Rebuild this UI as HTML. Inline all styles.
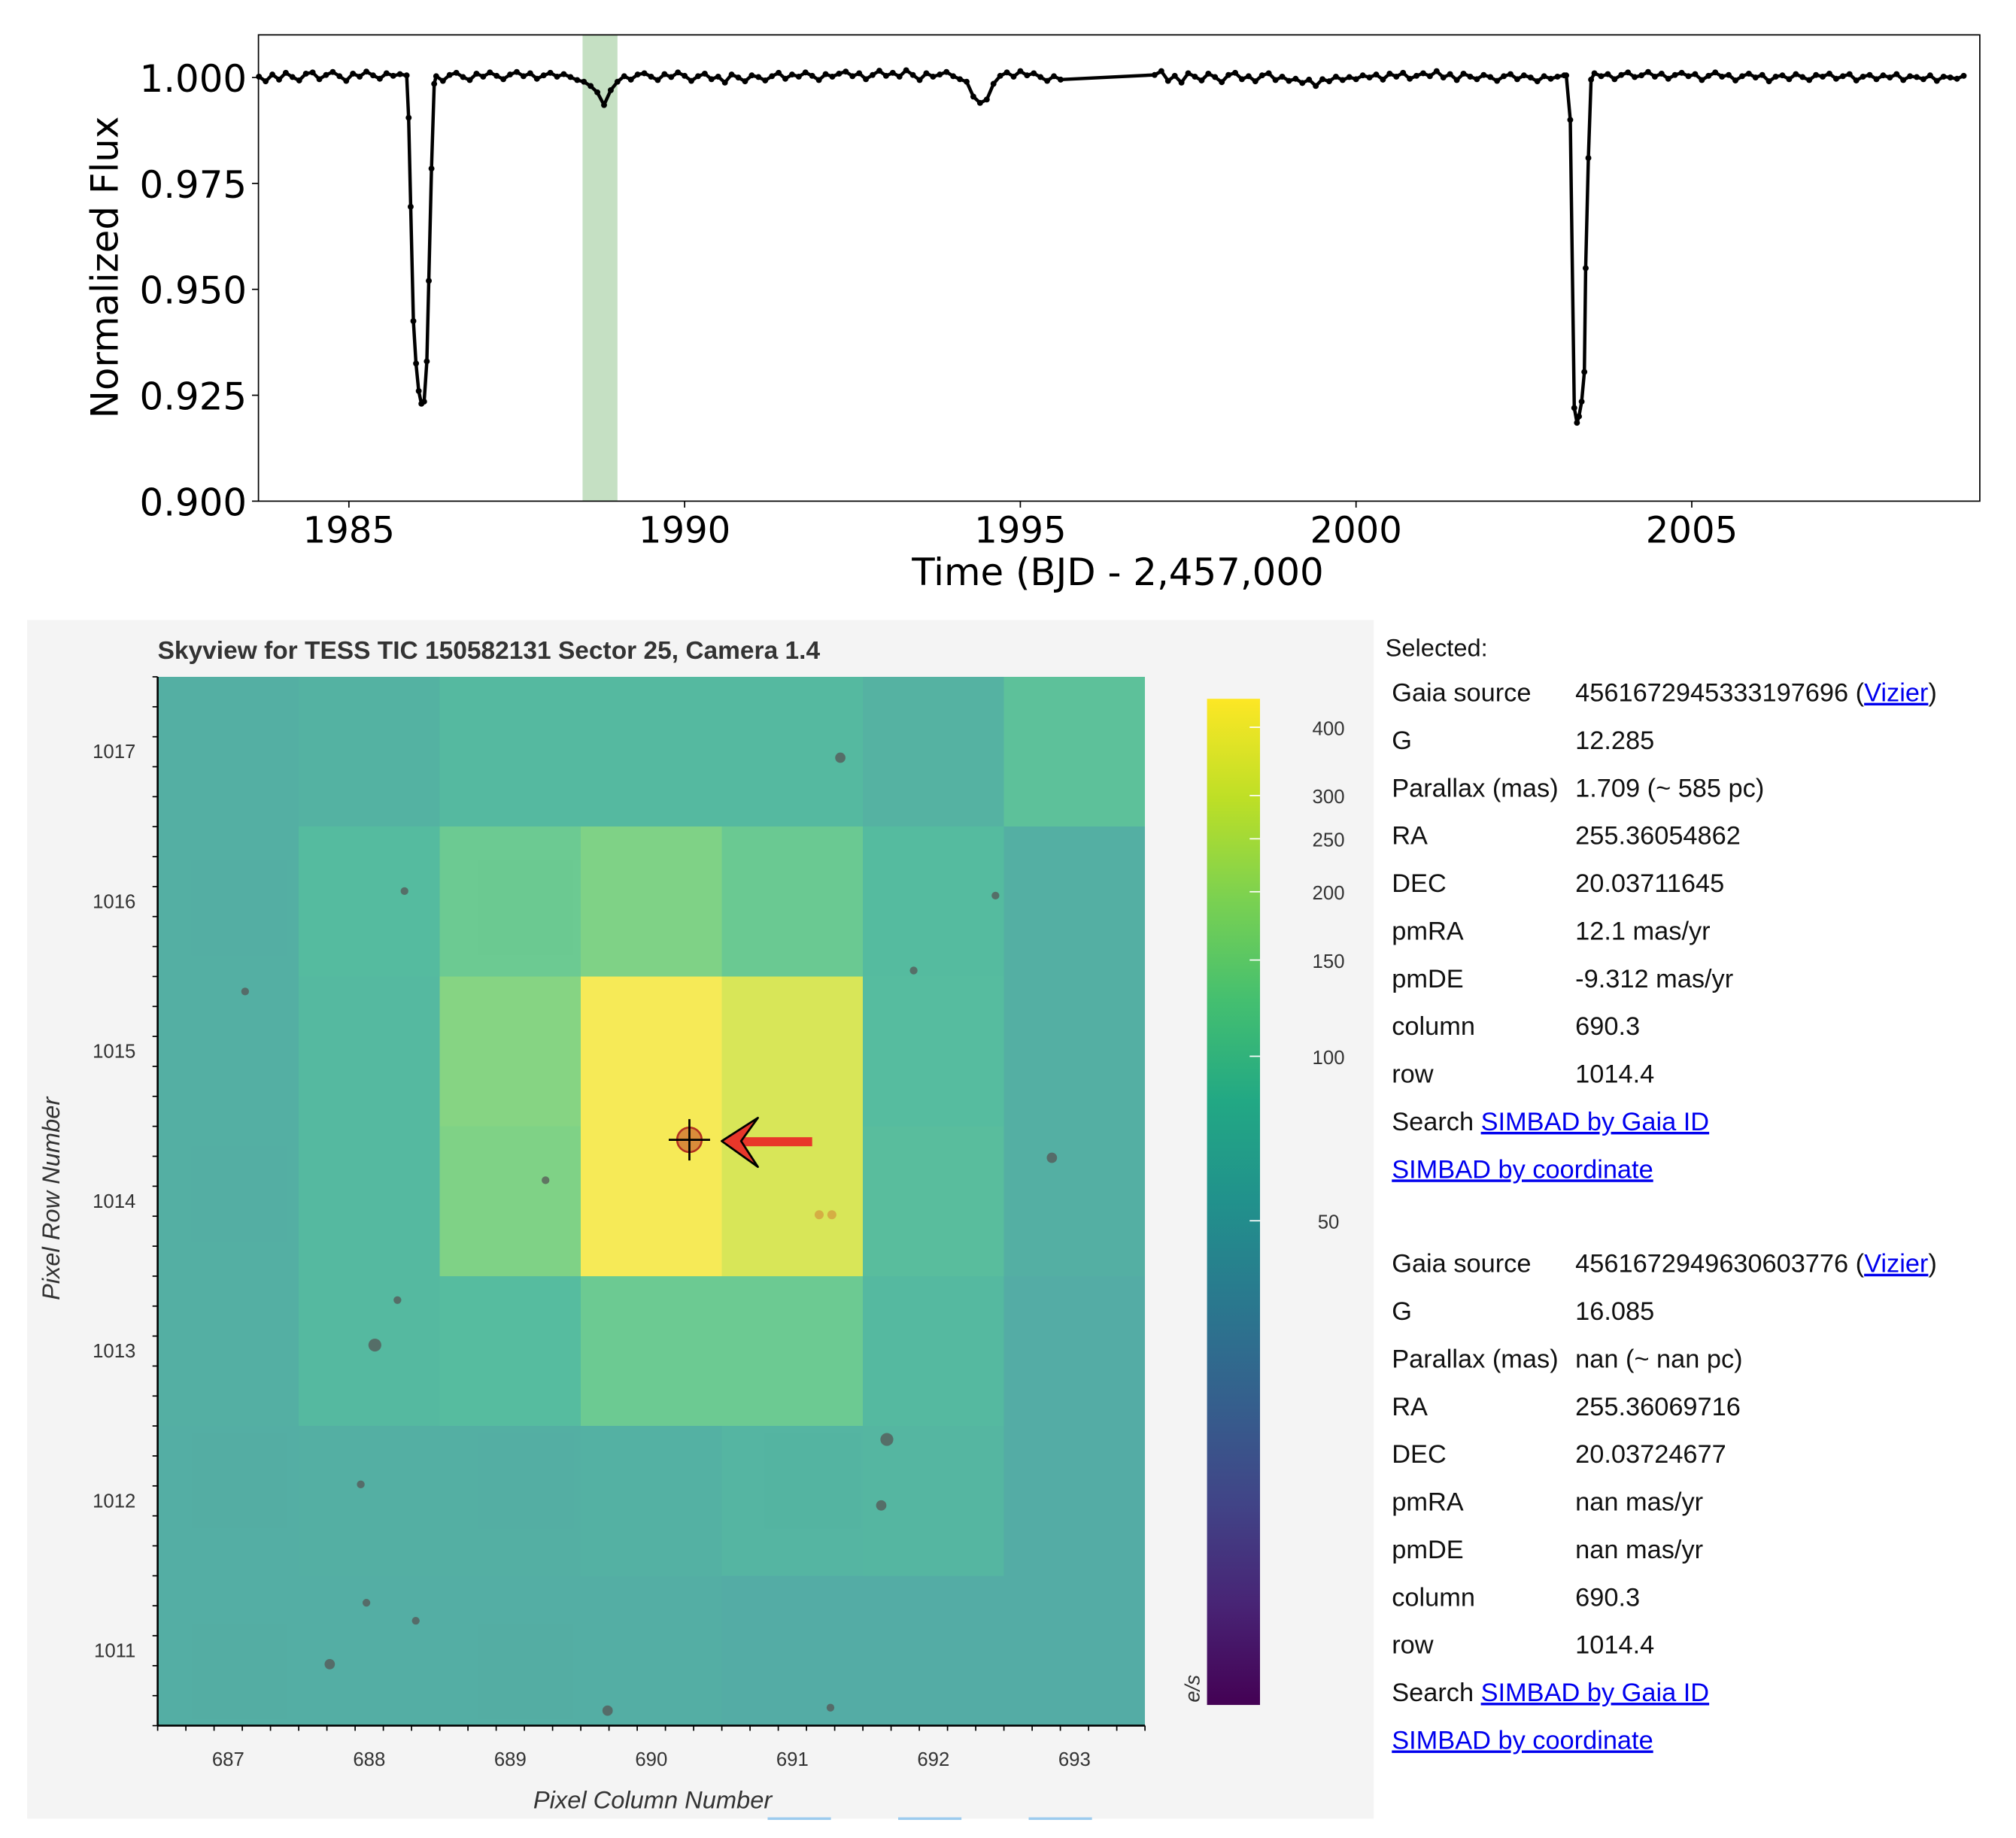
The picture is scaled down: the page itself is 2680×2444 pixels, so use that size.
<!DOCTYPE html>
<html><head><meta charset="utf-8"><style>
html,body{margin:0;padding:0;background:#fff;}
svg{display:block;}
</style></head><body>
<svg id="root" width="2680" height="2444" viewBox="0 0 1560 1423" preserveAspectRatio="none" xmlns="http://www.w3.org/2000/svg">
<g id="topChart"></g>
<g id="botPanel"></g>
<g id="infoPanel" font-family="Liberation Sans, Arial, sans-serif" font-size="20" fill="#111"></g>
</svg>
<script>
// ---------- Light curve data ----------
const seg1Start = 1983.66, seg1Ppt = [0.2,-0.9,0.7,-0.5,1.1,0.1,-0.7,0.9,1.2,-0.4,0.6,1.3,0.3,-0.8,0.9,0.2,1.4,0.5,-0.3,1.0,0.4,0.8];
const dip1Times = [1985.86,1985.89,1985.92,1985.96,1986.00,1986.04,1986.08,1986.12,1986.16,1986.19,1986.23,1986.27];
const dip1Flux = [1.0005,0.9905,0.9695,0.9425,0.9325,0.9260,0.9230,0.9235,0.9330,0.9520,0.9785,0.9985];
const seg2Start = 1986.3, seg2Ppt = [0.3,-0.8,0.6,1.1,0.1,-0.6,0.9,0.2,1.2,0.4,
-0.4,0.7,1.3,0.3,1.0,-0.3,0.5,1.1,0.2,0.8,
0.1,-0.6,-1.0,-2.0,-3.5,-6.5,-3.0,-1.0,0.3,-0.5,
0.7,1.0,0.2,-0.6,0.8,0.1,1.2,0.4,-0.8,0.3,
0.9,-0.4,0.2,-1.2,0.7,0.0,-0.9,0.5,0.1,-0.7,
0.3,1.1,-0.3,0.7,0.2,1.2,0.4,-0.6,0.8,0.2,
0.9,1.4,0.3,1.0,-0.4,0.6,1.6,0.4,1.1,0.2,
1.7,0.6,-0.6,1.0,0.2,0.7,1.3,0.3,-0.4,-1.0,
-4.5,-6.0,-5.2,-1.5,0.4,1.2,0.2,1.5,0.5,1.0,
0.1,-0.8,0.3,-0.5];
const seg3Start = 1997.0, seg3Ppt = [0.6,1.5,-0.8,0.4,-1.2,1.0,0.2,-0.7,0.9,0.1,
-1.1,0.6,1.1,-0.4,0.3,-0.9,0.5,1.0,-0.6,0.2,
-0.8,-0.3,-1.3,-0.5,-2.0,-0.4,-0.9,0.2,-0.6,0.1,
-0.4,0.5,0.0,0.7,-0.5,0.9,0.2,1.1,-0.3,0.4,
1.0,0.3,1.5,0.0,0.8,-0.6,0.9,0.2,-0.4,0.6,
0.1,-0.8,0.3,0.8,-0.4,0.5,0.0,-0.9,0.3,-0.3,0.2,0.5];
const dip2Times = [2003.13,2003.19,2003.25,2003.29,2003.32,2003.36,2003.40,2003.42,2003.46,2003.50];
const dip2Flux = [1.0005,0.9900,0.9220,0.9185,0.9200,0.9235,0.9305,0.9550,0.9810,0.9995];
const seg4Start = 2003.55, seg4Ppt = [1.0,0.3,0.8,-0.4,0.6,1.2,0.1,0.5,1.3,0.2,
0.9,-0.3,0.6,1.1,0.3,0.8,-0.6,0.4,1.2,0.2,
0.6,-0.7,0.3,0.9,0.0,0.6,-0.9,0.2,0.5,-0.4,
0.8,0.1,-0.6,0.6,0.2,0.9,-0.3,0.3,0.8,-0.7,
0.2,0.6,-0.4,0.5,0.0,0.8,-0.6,0.3,0.1,-0.4,
0.5,-0.8,0.2,0.0,-0.3,0.4];
const segStep = 0.1;
const xTicks = [1985,1990,1995,2000,2005];
const yTicks = [1.000,0.975,0.950,0.925,0.900];
const highlight = [1988.48,1989.0];

// ---------- Skyview data ----------
const cols = [687,688,689,690,691,692,693];
const rows = [1017,1016,1015,1014,1013,1012,1011];
const pixFlux = [
 [62,66,80,80,80,68,95],
 [62,82,120,150,118,82,62],
 [62,80,160,430,330,85,62],
 [62,80,150,430,330,88,62],
 [62,80,84,120,120,80,58],
 [60,62,62,65,72,74,58],
 [60,60,60,60,58,58,58]];
const cbTicks = [400,300,250,200,150,100,50];
const starCol = [687.12,688.25,691.34,692.44,691.86,689.25,692.84,688.20,688.04,691.67,687.94,691.63,687.98,688.33,687.72,689.69,691.27];
const starRow = [1015.40,1016.07,1016.96,1016.04,1015.54,1014.14,1014.29,1013.34,1013.04,1012.41,1012.11,1011.97,1011.32,1011.20,1010.91,1010.60,1010.62];
const starSize = [3,3,4,3,3,3,4,3,5,5,3,4,3,3,4,4,3];
const nearCol = [691.19,691.28], nearRow = [1013.91,1013.91];
const target = [690.27,1014.41];

const NS='http://www.w3.org/2000/svg';
function mk(tag, attrs, parent){const e=document.createElementNS(NS,tag);for(const k in attrs)e.setAttribute(k,attrs[k]);parent.appendChild(e);return e;}

// ===== top chart =====
const topG=document.getElementById('topChart');
const X0=200,X1=1532,Y0=27,Y1=388, tMin=1983.653, tMax=2009.29;
const sx=t=>X0+(t-tMin)/(tMax-tMin)*(X1-X0);
const sy=f=>60+(1-f)/0.1*328;
let hl=mk('rect',{x:sx(highlight[0]),y:Y0,width:sx(highlight[1])-sx(highlight[0]),height:Y1-Y0,fill:'#c5e0c3'},topG);


const T=[],F=[];
function addSeg(s,arr){arr.forEach((v,i)=>{T.push(s+i*segStep);F.push(1+v/1000);});}
function addDip(ts,fs){ts.forEach((t,i)=>{T.push(t);F.push(fs[i]);});}
addSeg(seg1Start,seg1Ppt);addDip(dip1Times,dip1Flux);addSeg(seg2Start,seg2Ppt);addSeg(seg3Start,seg3Ppt);addDip(dip2Times,dip2Flux);addSeg(seg4Start,seg4Ppt);
const pathD=T.map((t,i)=>(i?'L':'M')+sx(t).toFixed(1)+','+sy(F[i]).toFixed(1)).join('');
let ln=mk('path',{d:pathD,fill:'none',stroke:'#000','stroke-width':2.6,'stroke-linejoin':'round'},topG);


T.forEach((t,i)=>{let c=mk('circle',{cx:sx(t),cy:sy(F[i]),r:2.3,fill:'#000'},topG);

});
let fr=mk('rect',{x:X0,y:Y0,width:X1-X0,height:Y1-Y0,fill:'none',stroke:'#000','stroke-width':1},topG);


xTicks.forEach(v=>{mk('line',{x1:sx(v),x2:sx(v),y1:Y1,y2:Y1+5,stroke:'#000'},topG);
let tx=mk('text',{x:sx(v),y:420,'text-anchor':'middle','font-family':'DejaVu Sans, sans-serif','font-size':28},topG);tx.textContent=v;

});
yTicks.forEach(v=>{mk('line',{x1:X0-5,x2:X0,y1:sy(v),y2:sy(v),stroke:'#000'},topG);
let tx=mk('text',{x:191,y:sy(v)+11,'text-anchor':'end','font-family':'DejaVu Sans, sans-serif','font-size':29},topG);tx.textContent=v.toFixed(3);

});
let xt=mk('text',{x:865,y:453,'text-anchor':'middle','font-family':'DejaVu Sans, sans-serif','font-size':29},topG);xt.textContent='Time (BJD - 2,457,000';


let yt=mk('text',{x:0,y:0,'text-anchor':'middle','font-family':'DejaVu Sans, sans-serif','font-size':29,transform:'translate(91,207) rotate(-90)'},topG);yt.textContent='Normalized Flux';



// ===== skyview =====
const botG=document.getElementById('botPanel');
const FF='Liberation Sans, Arial, sans-serif';
let bg=mk('rect',{x:21,y:480,width:1042,height:928,fill:'#f4f4f4'},botG);


let ti=mk('text',{x:122,y:510,'font-family':FF,'font-size':19.5,'font-weight':'bold',fill:'#333'},botG);ti.textContent='Skyview for TESS TIC 150582131 Sector 25, Camera 1.4';


const PX0=122,PX1=886,PY0=524,PY1=1336;
const cw=(PX1-PX0)/7, rh=(PY1-PY0)/7;
const cx=c=>PX0+(c-686.5)*cw;
const ry=r=>PY0+(1017.5-r)*rh;
const VIR=[[0,'#440154'],[0.1,'#482475'],[0.2,'#414487'],[0.3,'#355f8d'],[0.4,'#2a788e'],[0.5,'#21918c'],[0.6,'#22a884'],[0.7,'#44bf70'],[0.8,'#7ad151'],[0.9,'#bddf26'],[1,'#fde725']];
function hx(h){return [1,3,5].map(i=>parseInt(h.substr(i,2),16));}
function vir(t){t=Math.max(0,Math.min(1,t));for(let i=1;i<VIR.length;i++){if(t<=VIR[i][0]){const a=hx(VIR[i-1][1]),b=hx(VIR[i][1]),u=(t-VIR[i-1][0])/(VIR[i][0]-VIR[i-1][0]);return 'rgb('+a.map((x,k)=>Math.round(x+(b[k]-x)*u)).join(',')+')';}}return VIR[10][1];}
const lmin=Math.log(6.5),lmax=Math.log(451);
const norm=v=>(Math.log(v)-lmin)/(lmax-lmin);
pixFlux.forEach((row,ri)=>row.forEach((v,ci)=>{let r=mk('rect',{x:cx(cols[ci]-0.5),y:ry(rows[ri]+0.5),width:cw,height:rh,fill:vir(norm(v)),'fill-opacity':0.76,'shape-rendering':'crispEdges'},botG);

}));
starCol.forEach((c,i)=>{let s=mk('circle',{cx:cx(c),cy:ry(starRow[i]),r:starSize[i],fill:'#555','fill-opacity':0.75},botG);

});
nearCol.forEach((c,i)=>{let s=mk('circle',{cx:cx(c),cy:ry(nearRow[i]),r:3.5,fill:'#d4a040','fill-opacity':0.8},botG);

});
const tx0=cx(target[0]),ty0=ry(target[1]);
let tg=mk('circle',{cx:tx0,cy:ty0,r:9.5,fill:'#d98c3a',stroke:'#b03020','stroke-width':1.5},botG);


mk('line',{x1:tx0-16,x2:tx0+16,y1:ty0,y2:ty0,stroke:'#000','stroke-width':1.6},botG);
mk('line',{x1:tx0,x2:tx0,y1:ty0-16,y2:ty0+16,stroke:'#000','stroke-width':1.6},botG);
let ar=mk('g',{},botG);


mk('rect',{x:tx0+34,y:ty0-2,width:61,height:7,fill:'#e8372a'},ar);
mk('path',{d:`M${tx0+25},${ty0+1} L${tx0+53},${ty0-17} L${tx0+40},${ty0+1} L${tx0+53},${ty0+21} Z`,fill:'#e8372a',stroke:'#000','stroke-width':1.6,'stroke-linejoin':'round'},ar);
mk('line',{x1:PX0,x2:PX0,y1:PY0,y2:PY1,stroke:'#000','stroke-width':1.5},botG);
mk('line',{x1:PX0,x2:PX1,y1:PY1,y2:PY1,stroke:'#000','stroke-width':1.5},botG);
for(let k=0;k<=35;k++){const r=1010.5+k*0.2;const y=ry(r);if(y<PY0-1||y>PY1)continue;const maj=Math.abs(r-Math.round(r))<0.01;mk('line',{x1:PX0-(maj?7:4),x2:PX0,y1:y,y2:y,stroke:'#000','stroke-width':1},botG);}
for(let k=0;k<=35;k++){const c=686.5+k*0.2;const x=cx(c);if(x>PX1+1)continue;const maj=Math.abs(c-Math.round(c))<0.01;mk('line',{x1:x,x2:x,y1:PY1,y2:PY1+(maj?7:4),stroke:'#000','stroke-width':1},botG);}
rows.forEach(r=>{let t=mk('text',{x:105,y:ry(r)+5,'text-anchor':'end','font-family':FF,'font-size':15,fill:'#333'},botG);t.textContent=r;

});
cols.forEach(c=>{let t=mk('text',{x:cx(c),y:1367,'text-anchor':'middle','font-family':FF,'font-size':15,fill:'#333'},botG);t.textContent=c;

});
let xa=mk('text',{x:505,y:1400,'text-anchor':'middle','font-family':FF,'font-size':19,'font-style':'italic',fill:'#333'},botG);xa.textContent='Pixel Column Number';


let ya=mk('text',{x:0,y:0,'text-anchor':'middle','font-family':FF,'font-size':19,'font-style':'italic',fill:'#333',transform:'translate(46,928) rotate(-90)'},botG);ya.textContent='Pixel Row Number';


const CB0=541,CB1=1320;
let defs=mk('defs',{},botG);let lg=mk('linearGradient',{id:'vg',x1:0,y1:1,x2:0,y2:0},defs);
VIR.forEach(s=>mk('stop',{offset:s[0],'stop-color':s[1]},lg));
let cb=mk('rect',{x:934,y:CB0,width:41,height:CB1-CB0,fill:'url(#vg)'},botG);


const cby=v=>CB1-norm(v)*(CB1-CB0);
cbTicks.forEach(v=>{mk('line',{x1:967,x2:975,y1:cby(v),y2:cby(v),stroke:'#fff','stroke-width':1},botG);
let t=mk('text',{x:1028,y:cby(v)+6,'text-anchor':'middle','font-family':FF,'font-size':15,fill:'#333'},botG);t.textContent=v;

});
let es=mk('text',{x:0,y:0,'font-family':FF,'font-size':16,'font-style':'italic',fill:'#333',transform:'translate(928,1318) rotate(-90)'},botG);es.textContent='e/s';


[594,695,796].forEach(x=>{let b=mk('rect',{x:x,y:1407,width:49,height:2,fill:'#9ccbee'},botG);

});

// ===== info panel =====
const infoG=document.getElementById('infoPanel');
let sel=mk('text',{x:1072,y:508,'font-size':19},infoG);sel.textContent='Selected:';


function block(y0,src,g,par,ra,dec,pmra,pmde){
 const rowsI=[['Gaia source',src,true],['G',g],['Parallax (mas)',par],['RA',ra],['DEC',dec],['pmRA',pmra],['pmDE',pmde],['column','690.3'],['row','1014.4']];
 rowsI.forEach((r,i)=>{const y=y0+i*36.9;
  let a=mk('text',{x:1077,y:y},infoG);a.textContent=r[0];
  
  
  let b=mk('text',{x:1219,y:y},infoG);
  
  
  if(r[2]){b.appendChild(document.createTextNode(r[1]+' ('));let l=mk('tspan',{fill:'#0000ee','text-decoration':'underline'},b);l.textContent='Vizier';
   
   
   b.appendChild(document.createTextNode(')'));}
  else b.textContent=r[1];});
 let s=mk('text',{x:1077,y:y0+9*36.9},infoG);s.appendChild(document.createTextNode('Search '));
 
 
 let l1=mk('tspan',{fill:'#0000ee','text-decoration':'underline'},s);l1.textContent='SIMBAD by Gaia ID';
 
 
 let l2=mk('text',{x:1077,y:y0+10*36.9,fill:'#0000ee','text-decoration':'underline'},infoG);l2.textContent='SIMBAD by coordinate';
 
 
}
block(543,'4561672945333197696','12.285','1.709 (~ 585 pc)','255.36054862','20.03711645','12.1 mas/yr','-9.312 mas/yr');
block(985,'4561672949630603776','16.085','nan (~ nan pc)','255.36069716','20.03724677','nan mas/yr','nan mas/yr');
</script>
</body></html>
